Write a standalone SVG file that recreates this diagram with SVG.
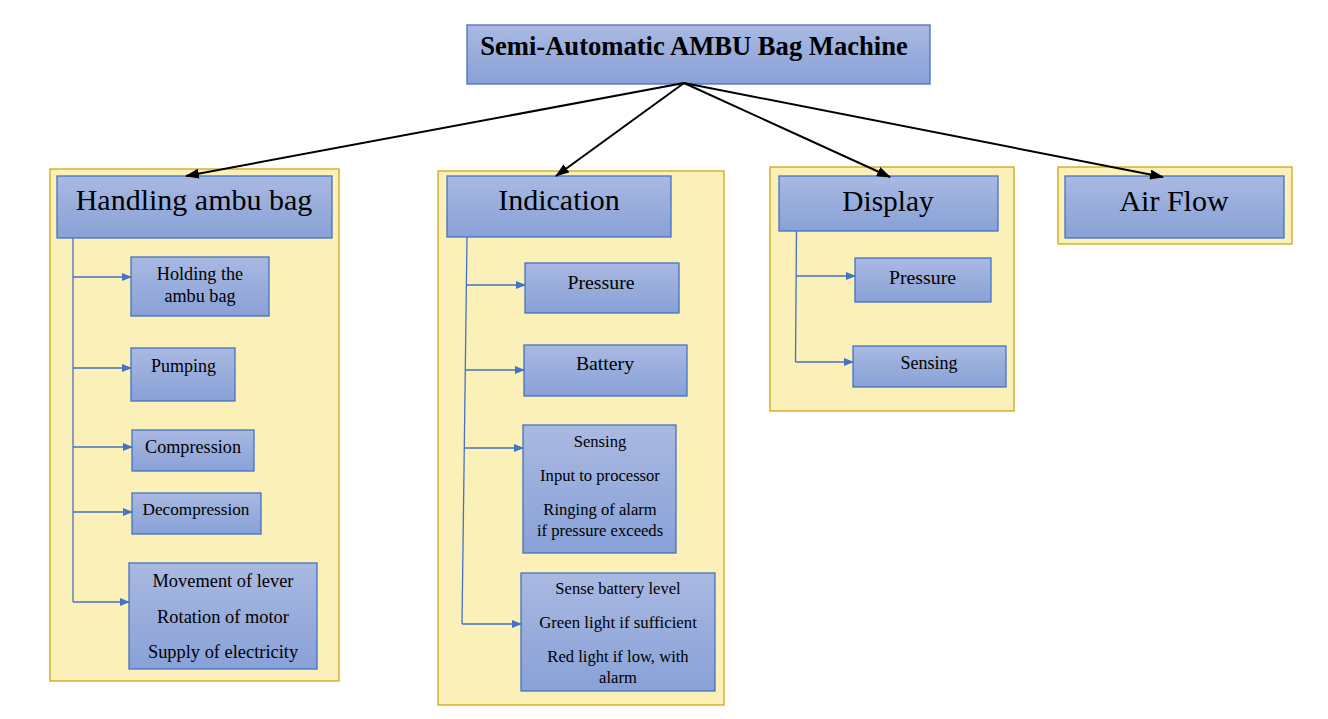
<svg xmlns="http://www.w3.org/2000/svg" width="1328" height="719" viewBox="0 0 1328 719">
<defs>
<linearGradient id="g" x1="0" y1="0" x2="0" y2="1">
<stop offset="0" stop-color="#A9B9E1"/>
<stop offset="1" stop-color="#88A1D7"/>
</linearGradient>
<marker id="ab" markerWidth="14" markerHeight="10" refX="13" refY="5" orient="auto" markerUnits="userSpaceOnUse">
<path d="M0,0 L14,5 L0,10 z" fill="#000"/>
</marker>
<marker id="au" markerWidth="10" markerHeight="8" refX="9" refY="4" orient="auto" markerUnits="userSpaceOnUse">
<path d="M0,0 L10,4 L0,8 z" fill="#4472C4"/>
</marker>
</defs>
<style>
.c{fill:#FBF0B8;stroke:#CFA716;stroke-width:1.3}
.b{fill:url(#g);stroke:#4472C4;stroke-width:1.3}
.t{font-family:"Liberation Serif","Times New Roman",serif;fill:#000;text-anchor:middle}
.h{font-size:30px}
.s{font-size:18px}
.m{font-size:16.6px}
.l{font-size:19.8px}
.k{stroke:#000;stroke-width:2;fill:none}
.u{stroke:#4472C4;stroke-width:1.3;fill:none}
</style>
<rect width="1328" height="719" fill="#fff"/>
<g id="containers">
<rect class="c" x="50" y="169" width="289" height="512"/>
<rect class="c" x="438" y="171" width="286" height="534"/>
<rect class="c" x="770" y="167" width="244" height="244"/>
<rect class="c" x="1058" y="167" width="234" height="77"/>
</g>
<g id="title">
<rect class="b" x="467" y="25" width="463" height="59"/>
<text class="t" x="694" y="55" style="font-size:26.6px;font-weight:bold">Semi-Automatic AMBU Bag Machine</text>
</g>
<g id="handling">
<rect class="b" x="57" y="176" width="275" height="62"/>
<text class="t h" x="194" y="210">Handling ambu bag</text>
</g>
<g id="holding">
<rect class="b" x="131" y="257" width="138" height="59"/>
<text class="t" x="200" y="280" style="font-size:18.2px">Holding the</text>
<text class="t" x="200" y="302" style="font-size:18.2px">ambu bag</text>
</g>
<g id="pumping">
<rect class="b" x="131" y="348" width="104" height="53"/>
<text class="t s" x="183.5" y="372">Pumping</text>
</g>
<g id="compression">
<rect class="b" x="132" y="430" width="122" height="41"/>
<text class="t" x="193" y="453" style="font-size:18.2px">Compression</text>
</g>
<g id="decompression">
<rect class="b" x="132" y="493" width="129" height="41"/>
<text class="t" x="196" y="515" style="font-size:17.2px">Decompression</text>
</g>
<g id="movement">
<rect class="b" x="129" y="563" width="188" height="106"/>
<text class="t" x="223" y="587" style="font-size:18.4px">Movement of lever</text>
<text class="t" x="223" y="623" style="font-size:18.4px">Rotation of motor</text>
<text class="t" x="223" y="658" style="font-size:18.4px">Supply of electricity</text>
</g>
<g id="indication">
<rect class="b" x="447" y="176" width="224" height="61"/>
<text class="t h" x="559" y="210">Indication</text>
</g>
<g id="ind-pressure">
<rect class="b" x="525" y="263" width="154" height="50"/>
<text class="t l" x="601" y="289">Pressure</text>
</g>
<g id="ind-battery">
<rect class="b" x="524" y="345" width="163" height="51"/>
<text class="t l" x="605" y="370">Battery</text>
</g>
<g id="ind-sensing">
<rect class="b" x="523" y="425" width="153" height="128"/>
<text class="t m" x="600" y="447">Sensing</text>
<text class="t m" x="600" y="481">Input to processor</text>
<text class="t m" x="600" y="515">Ringing of alarm</text>
<text class="t m" x="600" y="536">if pressure exceeds</text>
</g>
<g id="ind-level">
<rect class="b" x="521" y="573" width="194" height="118"/>
<text class="t m" x="618" y="594">Sense battery level</text>
<text class="t" x="618" y="628" style="font-size:16.8px">Green light if sufficient</text>
<text class="t m" x="618" y="662">Red light if low, with</text>
<text class="t m" x="618" y="683">alarm</text>
</g>
<g id="display">
<rect class="b" x="779" y="176" width="219" height="55"/>
<text class="t" x="888" y="211" style="font-size:29.4px">Display</text>
</g>
<g id="disp-pressure">
<rect class="b" x="855" y="258" width="136" height="44"/>
<text class="t l" x="922.5" y="284">Pressure</text>
</g>
<g id="disp-sensing">
<rect class="b" x="853" y="346" width="153" height="41"/>
<text class="t s" x="929" y="369">Sensing</text>
</g>
<g id="airflow">
<rect class="b" x="1065" y="176" width="219" height="62"/>
<text class="t h" x="1174" y="211">Air Flow</text>
</g>
<g id="connectors">
<path class="k" d="M684,83 L186,176" marker-end="url(#ab)"/>
<path class="k" d="M684,83 L556,176" marker-end="url(#ab)"/>
<path class="k" d="M684,83 L890,177" marker-end="url(#ab)"/>
<path class="k" d="M684,83 L1163,177" marker-end="url(#ab)"/>
<path class="u" d="M73,238 L73,602"/>
<path class="u" d="M73,277 L131,277" marker-end="url(#au)"/>
<path class="u" d="M73,368 L131,368" marker-end="url(#au)"/>
<path class="u" d="M73,447 L132,447" marker-end="url(#au)"/>
<path class="u" d="M73,512 L132,512" marker-end="url(#au)"/>
<path class="u" d="M73,602 L129,602" marker-end="url(#au)"/>
<path class="u" d="M467,237 L462,624"/>
<path class="u" d="M467,285 L525,285" marker-end="url(#au)"/>
<path class="u" d="M466,370 L524,370" marker-end="url(#au)"/>
<path class="u" d="M465,448 L523,448" marker-end="url(#au)"/>
<path class="u" d="M462,624 L521,624" marker-end="url(#au)"/>
<path class="u" d="M796.5,231 L795.5,362"/>
<path class="u" d="M796,276 L855,276" marker-end="url(#au)"/>
<path class="u" d="M795.5,362 L853,362" marker-end="url(#au)"/>
</g>
</svg>
